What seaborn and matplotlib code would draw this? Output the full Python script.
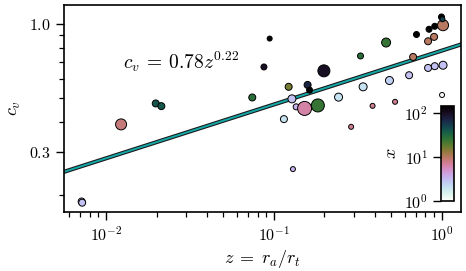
import matplotlib
matplotlib.use("Agg")
import matplotlib.pyplot as plt
import matplotlib.patheffects as pe
from matplotlib.colors import LogNorm
from matplotlib.ticker import FixedLocator, FixedFormatter, NullFormatter
import numpy as np
import pandas as pd
import seaborn as sns

# data (z, c_v, x colour value, marker diameter in px)
z_vals = [0.0943, 0.0872, 0.466, 0.328, 0.1985, 0.1587, 0.1631, 0.1224, 0.0743,
          0.128, 0.1357, 0.1523, 0.1827, 0.1147, 0.2884, 0.2427, 0.340, 0.488,
          0.639, 0.829, 0.9085, 1.018, 0.675, 0.387, 0.527, 1.004,
          0.707, 0.840, 0.9085, 0.996, 0.900, 0.829, 1.018, 1.0096,
          0.1298, 0.01976, 0.02134, 0.01228, 0.00715, 0.0072]
cv_vals = [0.874, 0.669, 0.842, 0.742, 0.645, 0.565, 0.538, 0.555, 0.502,
           0.4955, 0.4597, 0.4529, 0.4658, 0.4096, 0.3809, 0.5036, 0.555, 0.589,
           0.619, 0.663, 0.674, 0.680, 0.735, 0.464, 0.482, 0.514,
           0.908, 0.954, 0.981, 1.071, 0.888, 0.852, 0.991, 1.048,
           0.2559, 0.4746, 0.4627, 0.3897, 0.1886, 0.1865]
x_vals = [140, 100, 25, 28, 100, 70, 140, 16, 28,
          3, 3.5, 6.5, 25, 2, 7.5, 2, 2, 2.5,
          3, 3, 3, 3, 10, 7.5, 7.5, 1.1,
          140, 140, 140, 140, 10, 10, 10, 50,
          3.5, 40, 40, 8.5, 3.5, 3]
diam_px = [5, 6, 9, 6, 12, 7, 6, 7, 7,
           8, 6, 14, 13, 7, 5, 8, 8, 8,
           7, 7, 7, 8, 7, 5, 5, 5,
           6, 6, 6, 6, 7, 7, 11, 5,
           5, 7, 7, 11, 7, 7]

df = pd.DataFrame({"z": z_vals, "cv": cv_vals, "x": x_vals})
sizes = (np.array(diam_px) * 0.72) ** 2

plt.rcParams["mathtext.fontset"] = "cm"
plt.rcParams["font.family"] = "serif"
plt.rcParams["font.serif"] = ["cmr10", "DejaVu Serif"]
plt.rcParams["axes.formatter.use_mathtext"] = True

cmap = plt.get_cmap("cubehelix_r")
norm = LogNorm(vmin=1, vmax=145)

fig = plt.figure(figsize=(4.66, 2.71), dpi=100)
ax = fig.add_axes([0.137, 0.218, 0.852, 0.764])

sns.scatterplot(data=df, x="z", y="cv", hue="x", palette=cmap, hue_norm=norm,
                s=sizes, edgecolor="k", linewidth=0.7, legend=False, ax=ax, zorder=3)

ax.set_xscale("log")
ax.set_yscale("log")
ax.set_xlim(0.0056, 1.3)
ax.set_ylim(0.171, 1.2)

# fitted power law
zz = np.geomspace(0.0056, 1.3, 50)
ax.plot(zz, 0.78 * zz ** 0.22, color="#14a8a8", lw=1.4, zorder=2,
        path_effects=[pe.Stroke(linewidth=3.0, foreground="#1a1a1a"), pe.Normal()])

ax.text(0.149, 0.725, r"$c_v\:=\:0.78z^{0.22}$", transform=ax.transAxes,
        fontsize=14, va="center", ha="left")

ax.yaxis.set_major_locator(FixedLocator([0.3, 1.0]))
ax.yaxis.set_major_formatter(FixedFormatter([r"$0.3$", r"$1.0$"]))
ax.yaxis.set_minor_locator(FixedLocator([0.2, 0.4, 0.5, 0.6, 0.7, 0.8, 0.9]))
ax.yaxis.set_minor_formatter(NullFormatter())

ax.tick_params(which="major", length=6, width=1.0, labelsize=11.5)
ax.tick_params(which="minor", length=3.5, width=0.9)
for sp in ax.spines.values():
    sp.set_linewidth(1.2)

ax.set_xlabel(r"$z\;=\;r_a/r_t$", fontsize=13, labelpad=3)
ax.set_ylabel(r"$c_v$", fontsize=13, labelpad=4)

# colour bar inset
cax = fig.add_axes([0.947, 0.258, 0.027, 0.351])
sm = plt.cm.ScalarMappable(norm=norm, cmap=cmap)
cb = fig.colorbar(sm, cax=cax)
cb.outline.set_linewidth(1.2)
cax.yaxis.set_ticks_position("left")
cax.yaxis.set_label_position("left")
cax.tick_params(which="major", length=6, width=1.0, labelsize=11.5)
cax.tick_params(which="minor", length=0)
cb.set_label(r"$x$", fontsize=13, labelpad=4)

fig.savefig("out.png", dpi=100)
